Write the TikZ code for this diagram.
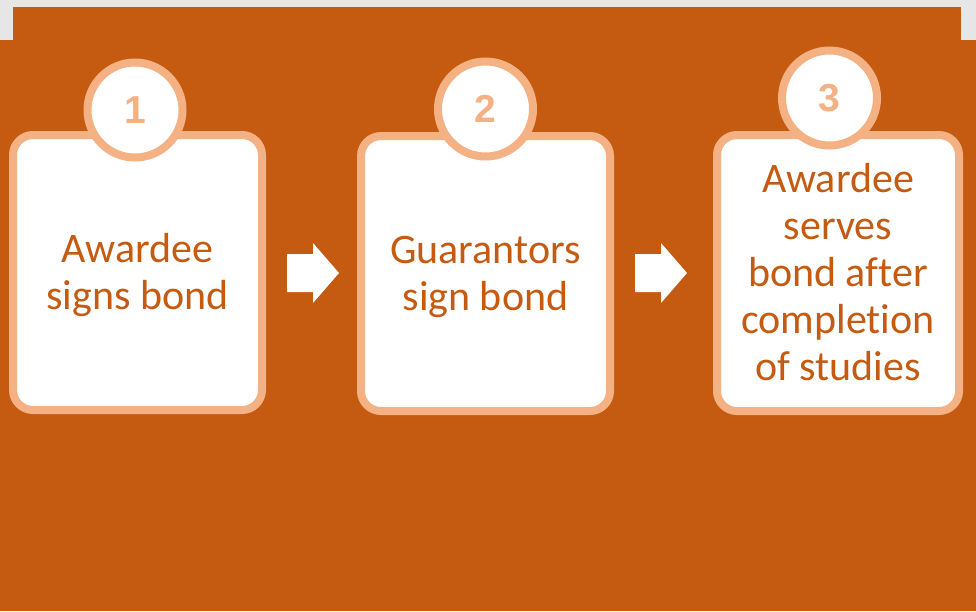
\documentclass[tikz,border=0pt]{standalone}
\usepackage{fontspec}
\setmainfont{Carlito}[Ligatures=CommonOff]
\newfontfamily\numfont{Liberation Sans}
\definecolor{bgorange}{HTML}{C55A11}
\definecolor{lightorange}{HTML}{F4B183}
\definecolor{greybg}{HTML}{E6E6E6}
\begin{document}
\begin{tikzpicture}[x=1pt,y=-1pt,
  stepbox/.style={draw=lightorange, fill=white, line width=8pt, rounded corners=20pt,
    inner sep=0pt},
  steptext/.style={align=center, text=bgorange, inner sep=0pt,
    font=\fontsize{42}{47}\selectfont},
  numcirc/.style={circle, draw=lightorange, fill=white, line width=8pt, minimum size=95pt,
    inner sep=0pt, text=lightorange, font=\numfont\bfseries\fontsize{39}{42}\selectfont},
  blockarrow/.style={fill=white}
]
\useasboundingbox (0,0) rectangle (976,611);
\fill[greybg] (0,0) rectangle (976,611);
\fill[bgorange] (13,7) rectangle (961,40);
\fill[bgorange] (0,40) rectangle (976,611);

\node[stepbox, minimum width=249pt, minimum height=275pt] (b1) at (137.5,272.5) {};
\node[stepbox, minimum width=249pt, minimum height=275pt] (b2) at (485.5,273.5) {};
\node[stepbox, minimum width=242pt, minimum height=276pt] (b3) at (838,273) {};
\node[steptext, yshift=-3pt] (t1) at (b1.center) {Awardee\\signs bond};
\node[steptext, yshift=-3pt] (t2) at (b2.center) {Guarantors\\sign bond};
\node[steptext, yshift=1pt] (t3) at (b3.center) {Awardee\\serves\\bond after\\completion\\of studies};

\node[numcirc] (c1) at (135,110) {1};
\node[numcirc] (c2) at (485.5,109) {2};
\node[numcirc] (c3) at (829.5,98) {3};

\coordinate (a1) at (287,273);
\coordinate (a2) at (635,273);
\foreach \a in {a1,a2}{
  \fill[blockarrow] (\a) ++(0,-19) -- ++(26,0) -- ++(0,-11) -- ++(26,30) -- ++(-26,30) -- ++(0,-11) -- ++(-26,0) -- cycle;
}
\end{tikzpicture}
\end{document}
